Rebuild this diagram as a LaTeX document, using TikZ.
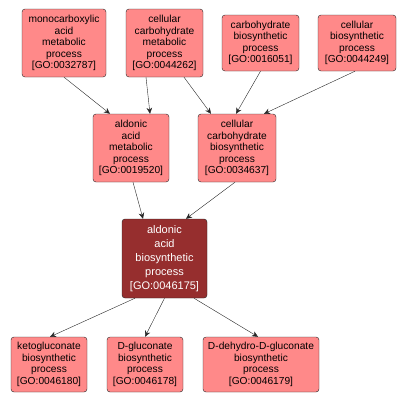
\documentclass[tikz,border=0pt]{standalone}
\usepackage{fontspec}
\setmainfont{Liberation Sans}
\usetikzlibrary{arrows.meta}

\definecolor{goterm}{RGB}{255,137,137}
\definecolor{gomain}{RGB}{150,46,46}

\begin{document}
\begin{tikzpicture}[x=1pt, y=-1pt,
  term/.style={draw=black!85, fill=goterm, rounded corners=3pt, align=center,
    inner sep=0pt, font=\fontsize{10.2}{11.5}\selectfont},
  mainterm/.style={term, fill=gomain, text=white, font=\fontsize{11}{14}\selectfont},
  isa/.style={-{Stealth[length=6pt, width=5.5pt]}, black!85, thin}]

\useasboundingbox (0,0) rectangle (406,402);

% top row
\node (mono) at (64,43) [term, minimum width=84pt, minimum height=68pt]
  {monocarboxylic\\acid\\metabolic\\process\\{[GO:0032787]}};
\node (ccm) at (164.5,43) [term, minimum width=77pt, minimum height=68pt]
  {cellular\\carbohydrate\\metabolic\\process\\{[GO:0044262]}};
\node (cbp) at (260.5,43) [term, minimum width=77pt, minimum height=56pt]
  {carbohydrate\\biosynthetic\\process\\{[GO:0016051]}};
\node (cbio) at (357,43) [term, minimum width=78pt, minimum height=56pt]
  {cellular\\biosynthetic\\process\\{[GO:0044249]}};

% middle row
\node (aldm) at (131,148) [term, minimum width=76pt, minimum height=68pt]
  {aldonic\\acid\\metabolic\\process\\{[GO:0019520]}};
\node (ccb) at (237,148) [term, minimum width=78pt, minimum height=68pt]
  {cellular\\carbohydrate\\biosynthetic\\process\\{[GO:0034637]}};

% the term itself
\node (aldb) at (164.5,258.5) [mainterm, minimum width=85pt, minimum height=79pt]
  {aldonic\\acid\\biosynthetic\\process\\{[GO:0046175]}};

% bottom row
\node (keto) at (49,364.5) [term, minimum width=76pt, minimum height=55pt]
  {ketogluconate\\biosynthetic\\process\\{[GO:0046180]}};
\node (dglu) at (145,364.5) [term, minimum width=76pt, minimum height=55pt]
  {D-gluconate\\biosynthetic\\process\\{[GO:0046178]}};
\node (ddh) at (261,364.5) [term, minimum width=116pt, minimum height=55pt]
  {D-dehydro-D-gluconate\\biosynthetic\\process\\{[GO:0046179]}};

\draw [isa] (mono.south) -- ([xshift=-21pt]aldm.north);
\draw [isa] ([xshift=-18.5pt]ccm.south) -- ([xshift=19pt]aldm.north);
\draw [isa] ([xshift=19.5pt]ccm.south) -- ([xshift=-26pt]ccb.north);
\draw [isa] (cbp.south) -- ([xshift=-1pt]ccb.north);
\draw [isa] ([xshift=-2pt]cbio.south) -- ([xshift=27pt]ccb.north);

\draw [isa] ([xshift=2pt]aldm.south) -- ([xshift=-21.5pt]aldb.north);
\draw [isa] ([xshift=-2pt]ccb.south) -- ([xshift=21.5pt]aldb.north);

\draw [isa] ([xshift=-29.5pt]aldb.south) -- ([xshift=1pt]keto.north);
\draw [isa] (aldb.south) -- (dglu.north);
\draw [isa] ([xshift=29.5pt]aldb.south) -- ([xshift=-3pt]ddh.north);

\end{tikzpicture}
\end{document}
